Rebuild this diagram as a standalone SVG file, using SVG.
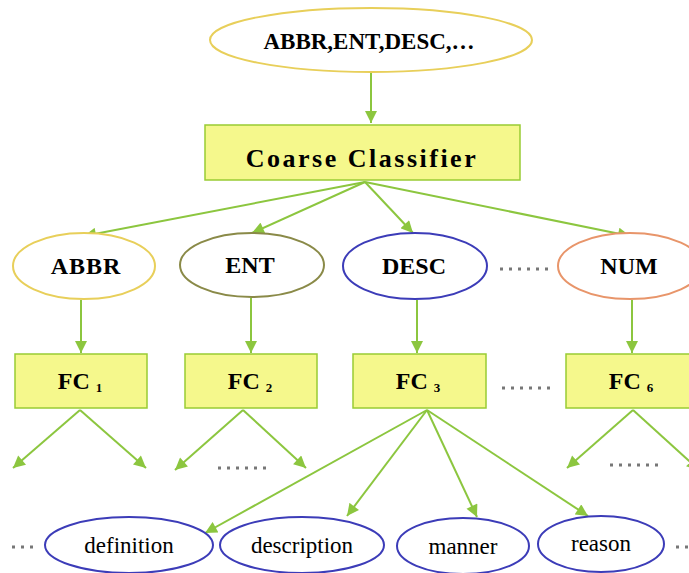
<svg xmlns="http://www.w3.org/2000/svg" width="689" height="573" viewBox="0 0 689 573">
<defs>
<marker id="ah" viewBox="0 0 10 10" refX="10" refY="5" markerWidth="13" markerHeight="12" markerUnits="userSpaceOnUse" orient="auto">
<path d="M0,0 L10,5 L0,10 z" fill="#8cc63f"/>
</marker>
</defs>
<style>
.e{fill:#fff;stroke-width:2}
.box{fill:#f5f88c;stroke:#99cc33;stroke-width:1.5}
.t{font-family:"Liberation Serif",serif;font-weight:bold;fill:#000;text-anchor:middle}
.n{font-family:"Liberation Serif",serif;fill:#000;text-anchor:middle;font-size:23px}
.c line{stroke:#8cc63f;stroke-width:2;marker-end:url(#ah)}
.d{stroke:#777;stroke-width:3;stroke-dasharray:3 6;fill:none}
</style>
<rect width="689" height="573" fill="#fff"/>
<g class="c" id="connectors">
<line x1="371" y1="72" x2="371" y2="123"/>
<line x1="365" y1="182" x2="84" y2="236"/>
<line x1="365" y1="182" x2="252" y2="233"/>
<line x1="365" y1="182" x2="413" y2="233"/>
<line x1="365" y1="182" x2="630" y2="236"/>
<line x1="81" y1="300" x2="81" y2="353"/>
<line x1="251" y1="298" x2="251" y2="353"/>
<line x1="417" y1="300" x2="417" y2="353"/>
<line x1="632" y1="300" x2="632" y2="353"/>
<line x1="80" y1="410" x2="13" y2="468"/>
<line x1="80" y1="410" x2="146" y2="468"/>
<line x1="243" y1="410" x2="175" y2="470"/>
<line x1="243" y1="410" x2="306" y2="468"/>
<line x1="427" y1="410" x2="205" y2="533"/>
<line x1="427" y1="410" x2="347" y2="516"/>
<line x1="427" y1="410" x2="477" y2="517"/>
<line x1="427" y1="410" x2="588" y2="516"/>
<line x1="633" y1="410" x2="567" y2="468"/>
<line x1="633" y1="410" x2="699" y2="470"/>
</g>
<g id="dots">
<line class="d" x1="500" y1="269" x2="554" y2="269"/>
<line class="d" x1="502" y1="388" x2="556" y2="388"/>
<line class="d" x1="218" y1="468" x2="272" y2="468"/>
<line class="d" x1="610" y1="465" x2="664" y2="465"/>
<line class="d" x1="12" y1="547" x2="36" y2="547"/>
<line class="d" x1="676" y1="547" x2="689" y2="547"/>
</g>
<g id="top">
<ellipse class="e" cx="371" cy="40" rx="161" ry="32" stroke="#e8cf5a"/>
<text class="t" x="369" y="49" font-size="23">ABBR,ENT,DESC,…</text>
</g>
<g id="coarse">
<rect class="box" x="205" y="125" width="315" height="55"/>
<text class="t" x="362" y="167" font-size="26" letter-spacing="2.5">Coarse Classifier</text>
</g>
<g id="abbr">
<ellipse class="e" cx="84" cy="266" rx="71" ry="33" stroke="#e8cf5a"/>
<text class="t" x="86" y="274" font-size="24" letter-spacing="1">ABBR</text>
</g>
<g id="ent">
<ellipse class="e" cx="252" cy="265" rx="72" ry="32" stroke="#8a8a48"/>
<text class="t" x="250" y="273" font-size="24">ENT</text>
</g>
<g id="desc">
<ellipse class="e" cx="415" cy="266" rx="72" ry="33" stroke="#3c3cb8"/>
<text class="t" x="414" y="274" font-size="24">DESC</text>
</g>
<g id="num">
<ellipse class="e" cx="630" cy="266" rx="72" ry="33" stroke="#e8956a"/>
<text class="t" x="629" y="274" font-size="24">NUM</text>
</g>
<g id="fc1">
<rect class="box" x="15" y="354" width="132" height="54"/>
<text class="t" x="80" y="389" font-size="24">FC <tspan font-size="13" dy="3">1</tspan></text>
</g>
<g id="fc2">
<rect class="box" x="185" y="354" width="132" height="54"/>
<text class="t" x="250" y="389" font-size="24">FC <tspan font-size="13" dy="3">2</tspan></text>
</g>
<g id="fc3">
<rect class="box" x="353" y="354" width="133" height="54"/>
<text class="t" x="418" y="389" font-size="24">FC <tspan font-size="13" dy="3">3</tspan></text>
</g>
<g id="fc6">
<rect class="box" x="566" y="354" width="133" height="54"/>
<text class="t" x="631" y="389" font-size="24">FC <tspan font-size="13" dy="3">6</tspan></text>
</g>
<g id="definition">
<ellipse class="e" cx="129" cy="545" rx="84" ry="28" stroke="#3c3cb8"/>
<text class="n" x="129" y="553">definition</text>
</g>
<g id="description">
<ellipse class="e" cx="302" cy="545" rx="82" ry="28" stroke="#3c3cb8"/>
<text class="n" x="302" y="553">description</text>
</g>
<g id="manner">
<ellipse class="e" cx="463" cy="546" rx="66" ry="28" stroke="#3c3cb8"/>
<text class="n" x="463" y="554">manner</text>
</g>
<g id="reason">
<ellipse class="e" cx="601" cy="544" rx="63" ry="28" stroke="#3c3cb8"/>
<text class="n" x="601" y="551">reason</text>
</g>
</svg>
